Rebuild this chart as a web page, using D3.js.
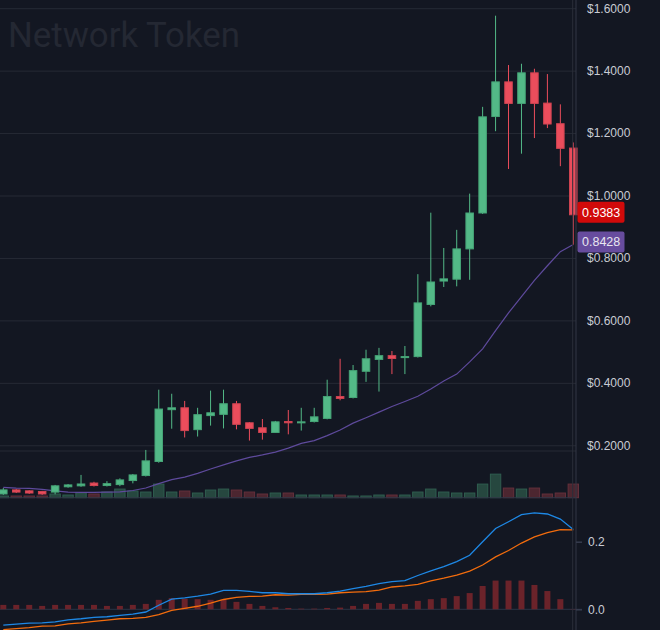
<!DOCTYPE html>
<html>
<head>
<meta charset="utf-8">
<script src="https://cdn.jsdelivr.net/npm/d3@7"></script>
<style>
  html, body { margin: 0; padding: 0; background: #131722; overflow: hidden; }
  #chart { width: 660px; height: 630px; }
</style>
</head>
<body>
<div id="chart"></div>
<script>
// candles, one per day (oldest first)
const days = d3.range(45)
const opens = [0.044, 0.057, 0.054, 0.052, 0.050, 0.067, 0.070, 0.079, 0.071, 0.074,
  0.087, 0.103, 0.148, 0.314, 0.320, 0.250, 0.295, 0.299, 0.333, 0.272,
  0.256, 0.241, 0.276, 0.272, 0.276, 0.286, 0.356, 0.353, 0.437, 0.475,
  0.487, 0.482, 0.484, 0.651, 0.726, 0.732, 0.829, 0.944, 1.253, 1.364,
  1.295, 1.393, 1.296, 1.230, 1.152]
const highs = [0.063, 0.060, 0.056, 0.054, 0.073, 0.076, 0.105, 0.083, 0.085, 0.094,
  0.108, 0.185, 0.378, 0.365, 0.342, 0.320, 0.375, 0.378, 0.342, 0.274,
  0.284, 0.278, 0.313, 0.320, 0.320, 0.410, 0.477, 0.457, 0.506, 0.512,
  0.502, 0.518, 0.748, 0.945, 0.832, 0.890, 1.006, 1.284, 1.576, 1.418,
  1.422, 1.406, 1.389, 1.292, 1.170]
const lows = [0.041, 0.047, 0.044, 0.041, 0.043, 0.064, 0.067, 0.068, 0.068, 0.069,
  0.078, 0.100, 0.144, 0.253, 0.225, 0.228, 0.263, 0.254, 0.251, 0.215,
  0.218, 0.241, 0.235, 0.247, 0.273, 0.283, 0.344, 0.350, 0.403, 0.372,
  0.428, 0.428, 0.481, 0.645, 0.707, 0.709, 0.730, 0.941, 1.206, 1.085,
  1.134, 1.184, 1.216, 1.094, 0.8428]
const closes = [0.057, 0.050, 0.047, 0.044, 0.070, 0.073, 0.076, 0.071, 0.077, 0.089,
  0.105, 0.150, 0.316, 0.320, 0.247, 0.298, 0.304, 0.333, 0.267, 0.254,
  0.241, 0.275, 0.272, 0.275, 0.291, 0.356, 0.350, 0.439, 0.477, 0.487,
  0.478, 0.484, 0.656, 0.723, 0.733, 0.829, 0.944, 1.252, 1.364, 1.295,
  1.393, 1.295, 1.229, 1.151, 0.9383]
// volume (M)
const volumes = [1.7, 1.7, 1.7, 1.7, 3.7, 2.7, 5.0, 3.7, 5.7, 8.7,
  6.7, 5.7, 13.7, 5.7, 6.7, 4.7, 7.7, 8.7, 7.7, 5.7,
  3.7, 4.7, 4.7, 2.7, 2.7, 2.7, 2.7, 1.7, 1.7, 2.7,
  2.7, 2.7, 5.7, 8.7, 5.7, 4.7, 4.7, 13.7, 23.7, 9.7,
  8.7, 9.7, 3.7, 4.7, 13.7]
// moving average
const maValues = [0.065, 0.063, 0.062, 0.059, 0.054, 0.050, 0.049, 0.049, 0.050, 0.051,
  0.055, 0.063, 0.077, 0.090, 0.098, 0.110, 0.124, 0.137, 0.150, 0.161,
  0.169, 0.178, 0.191, 0.206, 0.215, 0.231, 0.249, 0.271, 0.288, 0.306,
  0.324, 0.340, 0.357, 0.380, 0.406, 0.428, 0.467, 0.509, 0.567, 0.624,
  0.676, 0.728, 0.775, 0.820, 0.8428]
// MACD panel
const macdLine = [-0.047, -0.044, -0.041, -0.040, -0.037, -0.031, -0.028, -0.024, -0.022, -0.018,
  -0.014, -0.008, 0.012, 0.030, 0.034, 0.039, 0.045, 0.056, 0.056, 0.053,
  0.049, 0.049, 0.046, 0.046, 0.046, 0.049, 0.054, 0.061, 0.068, 0.076,
  0.082, 0.085, 0.100, 0.114, 0.126, 0.141, 0.160, 0.200, 0.239, 0.259,
  0.280, 0.285, 0.282, 0.267, 0.236]
const signalLine = [-0.060, -0.057, -0.054, -0.050, -0.049, -0.043, -0.040, -0.036, -0.032, -0.028,
  -0.027, -0.024, -0.016, -0.003, 0.003, 0.009, 0.018, 0.029, 0.035, 0.038,
  0.039, 0.043, 0.042, 0.044, 0.044, 0.045, 0.049, 0.051, 0.052, 0.057,
  0.066, 0.069, 0.074, 0.084, 0.092, 0.101, 0.113, 0.131, 0.155, 0.174,
  0.196, 0.214, 0.227, 0.236, 0.235]
const histValues = [0.013, 0.013, 0.013, 0.010, 0.013, 0.013, 0.013, 0.013, 0.010, 0.010,
  0.013, 0.016, 0.028, 0.033, 0.031, 0.030, 0.028, 0.028, 0.022, 0.016,
  0.010, 0.006, 0.004, 0.002, 0.002, 0.004, 0.005, 0.010, 0.016, 0.019,
  0.016, 0.016, 0.025, 0.030, 0.033, 0.039, 0.048, 0.069, 0.085, 0.085,
  0.085, 0.072, 0.054, 0.030, 0.001]
const priceTicks = [0.2, 0.4, 0.6, 0.8, 1.0, 1.2, 1.4, 1.6]
const macdTicks = [0, 0.2]
const title = "Network Token"

const W = 660, H = 630
const plotRight = 576
const up = "#53b987", down = "#eb4d5c"
const grid = "#262a35"

const svg = d3.select("#chart")
  .append("svg")
  .attr("width", W)
  .attr("height", H)
  .style("font-family", "'Liberation Sans', Arial, sans-serif")

svg.append("rect").attr("width", W).attr("height", H).attr("fill", "#131722")

let x = d3.scalePoint()
  .domain(days)
  .range([3.3, 573.3])
const bodyW = x.step() * 0.58
const volW = x.step() * 0.8

let y = d3.scaleLinear()
  .domain([0, 1.6])
  .range([507.7, 8.2])

let yVol = d3.scaleLinear()
  .domain([0, 47])
  .range([497.7, 451])

let yMacd = d3.scaleLinear()
  .domain([0, 0.2])
  .range([609.3, 541.7])

// price grid
svg.append("g")
  .attr("transform", `translate(${plotRight},0)`)
  .call(d3.axisLeft(y).tickValues(priceTicks).tickSize(plotRight).tickFormat(""))
  .call(g => g.select(".domain").remove())
  .call(g => g.selectAll("line").attr("stroke", grid))

// volume top line
svg.append("line")
  .attr("x1", 0).attr("x2", plotRight)
  .attr("y1", yVol(47)).attr("y2", yVol(47))
  .attr("stroke", grid)

// watermark title
svg.append("text")
  .attr("x", 8)
  .attr("y", 47)
  .attr("fill", "#242833")
  .style("font-family", "Roboto, sans-serif")
  .style("font-size", "34.8px")
  .text(title)

// volume bars
svg.append("g")
  .selectAll("rect")
  .data(days)
  .join("rect")
  .attr("x", i => x(i) - volW / 2)
  .attr("y", i => yVol(volumes[i]))
  .attr("width", volW)
  .attr("height", i => yVol(0) - yVol(volumes[i]))
  .attr("fill", i => closes[i] >= opens[i] ? "#26473f" : "#4c2630")
  .attr("stroke", i => closes[i] >= opens[i] ? "#2f5d4f" : "#64303b")
  .attr("stroke-width", 1)

svg.append("line")
  .attr("x1", 0).attr("x2", plotRight)
  .attr("y1", yVol(0)).attr("y2", yVol(0))
  .attr("stroke", "#2f3646")

// moving average
svg.append("path")
  .datum(days)
  .attr("fill", "none")
  .attr("stroke", "#5e4a9c")
  .attr("stroke-width", 1.2)
  .attr("d", d3.line().x(i => x(i)).y(i => y(maValues[i])))

// candles
const candles = svg.append("g")
  .selectAll("g")
  .data(days)
  .join("g")

candles.append("line")
  .attr("x1", i => x(i)).attr("x2", i => x(i))
  .attr("y1", i => y(highs[i]))
  .attr("y2", i => y(lows[i]))
  .attr("stroke", i => closes[i] >= opens[i] ? up : down)
  .attr("stroke-width", 1)

candles.append("rect")
  .attr("x", i => x(i) - bodyW / 2)
  .attr("y", i => y(Math.max(opens[i], closes[i])))
  .attr("width", bodyW)
  .attr("height", i => Math.max(1, Math.abs(y(opens[i]) - y(closes[i]))))
  .attr("fill", i => closes[i] >= opens[i] ? up : down)
  .attr("stroke", i => closes[i] >= opens[i] ? "#46a577" : "#cf4452")
  .attr("stroke-width", 1)

// MACD panel
svg.append("line")
  .attr("x1", 0).attr("x2", 582)
  .attr("y1", yMacd(0)).attr("y2", yMacd(0))
  .attr("stroke", "#2a3547")

svg.append("g")
  .selectAll("rect")
  .data(days)
  .join("rect")
  .attr("x", i => x(i) - 3)
  .attr("y", i => yMacd(Math.max(0, histValues[i])))
  .attr("width", 6)
  .attr("height", i => Math.abs(yMacd(histValues[i]) - yMacd(0)))
  .attr("fill", "#6b232a")

svg.append("path")
  .datum(days)
  .attr("fill", "none")
  .attr("stroke", "#f26c0d")
  .attr("stroke-width", 1.3)
  .attr("d", d3.line().x(i => x(i)).y(i => yMacd(signalLine[i])))

svg.append("path")
  .datum(days)
  .attr("fill", "none")
  .attr("stroke", "#1e88e5")
  .attr("stroke-width", 1.3)
  .attr("d", d3.line().x(i => x(i)).y(i => yMacd(macdLine[i])))

// right edge lines
svg.append("line")
  .attr("x1", 572.7).attr("x2", 572.7).attr("y1", 0).attr("y2", H)
  .attr("stroke", "#2a2e39")
svg.append("line")
  .attr("x1", plotRight).attr("x2", plotRight).attr("y1", 0).attr("y2", H)
  .attr("stroke", "#323644")

// axes
svg.append("g")
  .attr("transform", `translate(${plotRight},0)`)
  .call(d3.axisRight(y).tickValues(priceTicks).tickSize(0).tickPadding(11)
    .tickFormat(d => "$" + d.toFixed(4)))
  .call(g => g.select(".domain").remove())
  .call(g => g.selectAll("text").attr("fill", "#c9ccd4").style("font-size", "12px")
    .style("font-family", "'Liberation Sans', Arial, sans-serif"))

svg.append("g")
  .attr("transform", `translate(${plotRight},0)`)
  .call(d3.axisRight(yMacd).tickValues(macdTicks).tickSize(6).tickPadding(6)
    .tickFormat(d3.format(".1f")))
  .call(g => g.select(".domain").remove())
  .call(g => g.selectAll("line").attr("stroke", "#363c4e").attr("stroke-width", 1.5))
  .call(g => g.selectAll("text").attr("fill", "#c9ccd4").style("font-size", "12px")
    .style("font-family", "'Liberation Sans', Arial, sans-serif"))

// last value tags
const tags = [
  { v: closes[closes.length - 1], fill: "#d10a0a", text: "#ffffff" },
  { v: maValues[maValues.length - 1], fill: "#674c9e", text: "#e8e6f0" }
]
tags.forEach(t => {
  svg.append("rect")
    .attr("x", 577.5).attr("y", y(t.v) - 13)
    .attr("width", 47).attr("height", 21)
    .attr("rx", 2)
    .attr("fill", t.fill)
  svg.append("text")
    .attr("x", 582).attr("y", y(t.v) - 2.5)
    .attr("dy", "0.35em")
    .attr("fill", t.text)
    .style("font-size", "12.5px")
    .text(t.v.toFixed(4))
})
</script>
</body>
</html>
